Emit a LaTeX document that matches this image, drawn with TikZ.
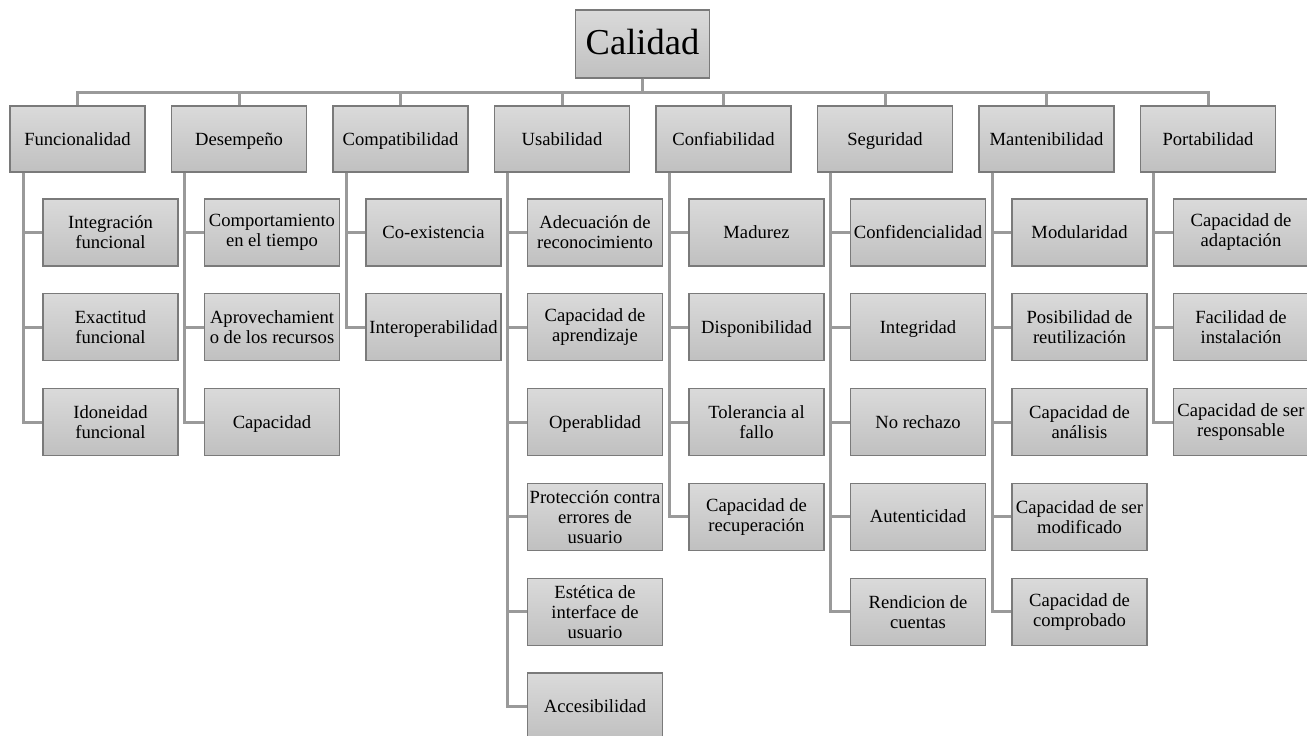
\documentclass[tikz,border=0pt]{standalone}
\usepackage{fontspec}
\setmainfont{Liberation Serif}
\definecolor{boxtop}{HTML}{DADADA}
\definecolor{boxbot}{HTML}{C0C0C0}
\definecolor{boxline}{HTML}{7A7A7A}
\definecolor{connline}{HTML}{9A9A9A}
\tikzset{
  box/.style={rectangle, draw=boxline, line width=1.3pt, top color=boxtop, bottom color=boxbot,
    minimum width=135pt, minimum height=67pt, inner sep=0pt, align=center,
    font=\fontsize{18.6}{20}\selectfont},
  oneline/.style={text height=12pt, text depth=0pt},
  catbox/.style={box, oneline, minimum height=66pt},
  leaf/.style={box},
  leafone/.style={box, oneline},
  conn/.style={draw=connline, line width=3pt}
}
\begin{document}
\begin{tikzpicture}[x=1pt, y=-1pt]
\useasboundingbox (0,0) rectangle (1307,736);

% top level
\node[box, minimum width=134pt, minimum height=68pt, text height=20pt, text depth=0pt,
  font=\fontsize{36.5}{40}\selectfont] (root) at (642.5,44) {Calidad};

% characteristics
\foreach \i/\nm/\lab in {0/fu/Funcionalidad, 1/de/Desempeño, 2/co/Compatibilidad, 3/us/Usabilidad,
  4/cf/Confiabilidad, 5/se/Seguridad, 6/ma/Mantenibilidad, 7/po/Portabilidad}
  \node[catbox] (\nm) at ({77.5+161.5*\i},139) {\lab};

% sub-characteristics
\node[leaf] (fu1) at (110.5,232.5) {Integración\\funcional};
\node[leaf] (fu2) at (110.5,327.3) {Exactitud\\funcional};
\node[leaf] (fu3) at (110.5,422.1) {Idoneidad\\funcional};

\node[leaf] (de1) at (272,232.5) {Comportamiento\\en el tiempo};
\node[leaf] (de2) at (272,327.3) {Aprovechamient\\o de los recursos};
\node[leafone] (de3) at (272,422.1) {Capacidad};

\node[leafone] (co1) at (433.5,232.5) {Co-existencia};
\node[leafone] (co2) at (433.5,327.3) {Interoperabilidad};

\node[leaf] (us1) at (595,232.5) {Adecuación de\\reconocimiento};
\node[leaf] (us2) at (595,327.3) {Capacidad de\\aprendizaje};
\node[leafone] (us3) at (595,422.1) {Operablidad};
\node[leaf] (us4) at (595,516.9) {Protección contra\\errores de\\usuario};
\node[leaf] (us5) at (595,611.7) {Estética de\\interface de\\usuario};
\node[leafone] (us6) at (595,706.5) {Accesibilidad};

\node[leafone] (cf1) at (756.5,232.5) {Madurez};
\node[leafone] (cf2) at (756.5,327.3) {Disponibilidad};
\node[leaf] (cf3) at (756.5,422.1) {Tolerancia al\\fallo};
\node[leaf] (cf4) at (756.5,516.9) {Capacidad de\\recuperación};

\node[leafone] (se1) at (918,232.5) {Confidencialidad};
\node[leafone] (se2) at (918,327.3) {Integridad};
\node[leafone] (se3) at (918,422.1) {No rechazo};
\node[leafone] (se4) at (918,516.9) {Autenticidad};
\node[leaf] (se5) at (918,611.7) {Rendicion de\\cuentas};

\node[leafone] (ma1) at (1079.5,232.5) {Modularidad};
\node[leaf] (ma2) at (1079.5,327.3) {Posibilidad de\\reutilización};
\node[leaf] (ma3) at (1079.5,422.1) {Capacidad de\\análisis};
\node[leaf] (ma4) at (1079.5,516.9) {Capacidad de ser\\modificado};
\node[leaf] (ma5) at (1079.5,611.7) {Capacidad de\\comprobado};

\node[leaf] (po1) at (1241,232.5) {Capacidad de\\adaptación};
\node[leaf] (po2) at (1241,327.3) {Facilidad de\\instalación};
\node[leaf] (po3) at (1241,422.1) {Capacidad de ser\\responsable};

% connectors: root to characteristics
\foreach \nm in {fu,de,co,us,cf,se,ma,po}
  \draw[conn] (root.south) -- ++(0,13.5) -| (\nm.north);

% connectors: characteristics to sub-characteristics
\foreach \nm/\n in {fu/3, de/3, co/2, us/6, cf/4, se/5, ma/5, po/3}
  \foreach \k in {1,...,\n}
    \draw[conn] ([xshift=14pt]\nm.south west) |- (\nm\k.west);
\end{tikzpicture}
\end{document}
